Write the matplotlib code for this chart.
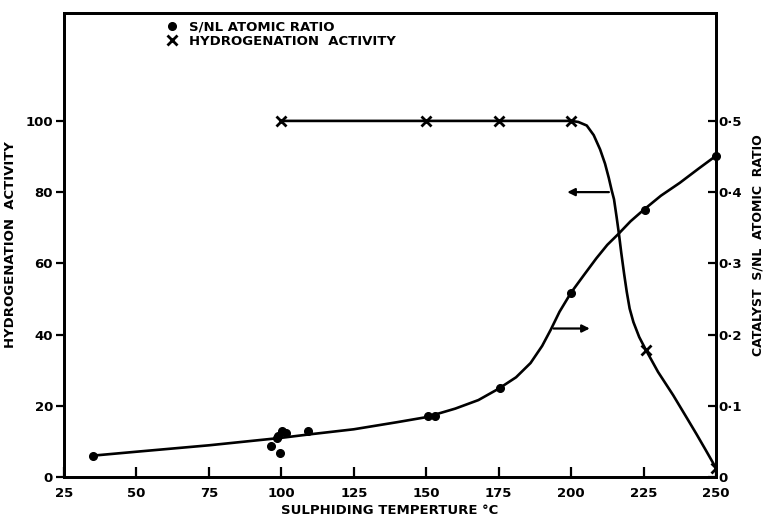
import matplotlib
matplotlib.use('Agg')
import matplotlib.pyplot as plt
from matplotlib.lines import Line2D

# ---- data ----
ratio_temp = [35, 96.5, 99.4, 98.5, 99, 100.4, 101.5, 109.3, 150.5, 153, 175.5, 200, 225.4, 250]
ratio_vals = [0.030, 0.043, 0.034, 0.055, 0.058, 0.064, 0.062, 0.064, 0.085, 0.086, 0.125, 0.259, 0.375, 0.451]

act_temp = [100, 150, 175, 200, 225.8, 250]
act_vals = [100, 100, 100, 100, 35.7, 2.5]

# hand-drawn smooth curves
ratio_curve_t = [35, 50, 75, 100, 110, 125, 140, 150, 160, 168, 175, 181, 186, 190, 193, 196,
                 200, 204.5, 208.7, 212.5, 216.5, 220.5, 225, 231, 237.5, 244, 250]
ratio_curve_v = [0.030, 0.0355, 0.0445, 0.055, 0.060, 0.067, 0.077, 0.084, 0.096, 0.108, 0.124,
                 0.140, 0.160, 0.184, 0.207, 0.232, 0.259, 0.284, 0.307, 0.326, 0.342, 0.359,
                 0.375, 0.395, 0.413, 0.433, 0.451]

act_curve_t = [100, 150, 175, 200, 202.5, 205.4, 207.8, 210, 211.7, 213, 214, 214.8, 215.7, 216.5,
               217.3, 218.3, 219.2, 220.2, 221.5, 223.5, 225.8, 230, 235.2, 240, 243.3, 246.5, 250]
act_curve_v = [100, 100, 100, 100, 99.7, 98.7, 96, 92, 88, 84, 80.5, 78, 73, 68.3,
               63, 57, 52, 47.3, 43.5, 39.3, 35.7, 29.5, 23, 16.5, 12, 7.5, 2.5]

x_ticks = [25, 50, 75, 100, 125, 150, 175, 200, 225, 250]
y_ticks = [0, 20, 40, 60, 80, 100]
y2_ticks = [0, 0.1, 0.2, 0.3, 0.4, 0.5]
y2_labels = ['0', '0·1', '0·2', '0·3', '0·4', '0·5']

# ---- figure ----
plt.rcParams['font.family'] = ['DejaVu Sans']
plt.rcParams['font.weight'] = 'bold'
fig = plt.figure(figsize=(7.66, 5.2), dpi=100)
L, R, B, T = 64, 716, 477, 13
W = R - L
ax = fig.add_axes([L/766, (520-B)/520, W/766, (B-T)/520])
ax2 = ax.twinx()

ymax = 130.3
ax.set_xlim(25, 250)
ax.set_ylim(0, ymax)
ax2.set_ylim(0, ymax / 200.0)

lw = 1.9
ax.plot(act_curve_t, act_curve_v, color='black', lw=lw, solid_capstyle='round', zorder=3)
ax.plot(act_temp, act_vals, ls='none', marker='x', ms=7, mew=2.0, color='black', zorder=4)
ax2.plot(ratio_curve_t, ratio_curve_v, color='black', lw=lw, solid_capstyle='round', zorder=3)
ax2.plot(ratio_temp, ratio_vals, ls='none', marker='o', ms=5.5, color='black', zorder=4, clip_on=False)

# arrows indicating which axis each curve belongs to
ax.annotate('', xy=(197.7, 80), xytext=(214.0, 80),
            arrowprops=dict(arrowstyle='-|>', lw=1.6, color='black', mutation_scale=11))
ax.annotate('', xy=(207.4, 41.7), xytext=(193.0, 41.7),
            arrowprops=dict(arrowstyle='-|>', lw=1.6, color='black', mutation_scale=11))

for a in (ax, ax2):
    for s in a.spines.values():
        s.set_linewidth(2.0)

ax.set_xticks(x_ticks)
ax.set_xticklabels([str(t) for t in x_ticks])
ax.set_yticks(y_ticks)
ax.set_yticklabels([str(t) for t in y_ticks])
ax.tick_params(axis='y', direction='out', length=6, width=1.6, labelsize=9.5, pad=2)
ax.tick_params(axis='x', direction='in', length=7, width=1.6, labelsize=9.5, pad=7)
ax2.set_yticks(y2_ticks)
ax2.set_yticklabels(y2_labels)
ax2.tick_params(axis='y', direction='in', length=6, width=1.6, labelsize=9.5, pad=2)

ax.set_xlabel('SULPHIDING TEMPERTURE °C', fontsize=9.5, fontweight='bold', labelpad=3)
ax.set_ylabel('HYDROGENATION  ACTIVITY', fontsize=9.5, fontweight='bold')
ax.yaxis.set_label_coords((17 - L) / W, 0.5)
ax2.set_ylabel('CATALYST  S/NL  ATOMIC  RATIO', fontsize=9, fontweight='bold', rotation=90)
ax2.yaxis.set_label_coords((752 - L) / W, 0.5)

handles = [Line2D([], [], ls='none', marker='o', ms=5.5, color='black'),
           Line2D([], [], ls='none', marker='x', ms=7, mew=2.0, color='black')]
fig.legend(handles, ['S/NL ATOMIC RATIO', 'HYDROGENATION  ACTIVITY'],
           loc='upper left', bbox_to_anchor=(165/766, 1 - 21/520),
           frameon=False, fontsize=9.5, handlelength=1.0, handletextpad=0.8,
           borderpad=0, borderaxespad=0, labelspacing=0.05)

fig.savefig('out.png', dpi=100)
